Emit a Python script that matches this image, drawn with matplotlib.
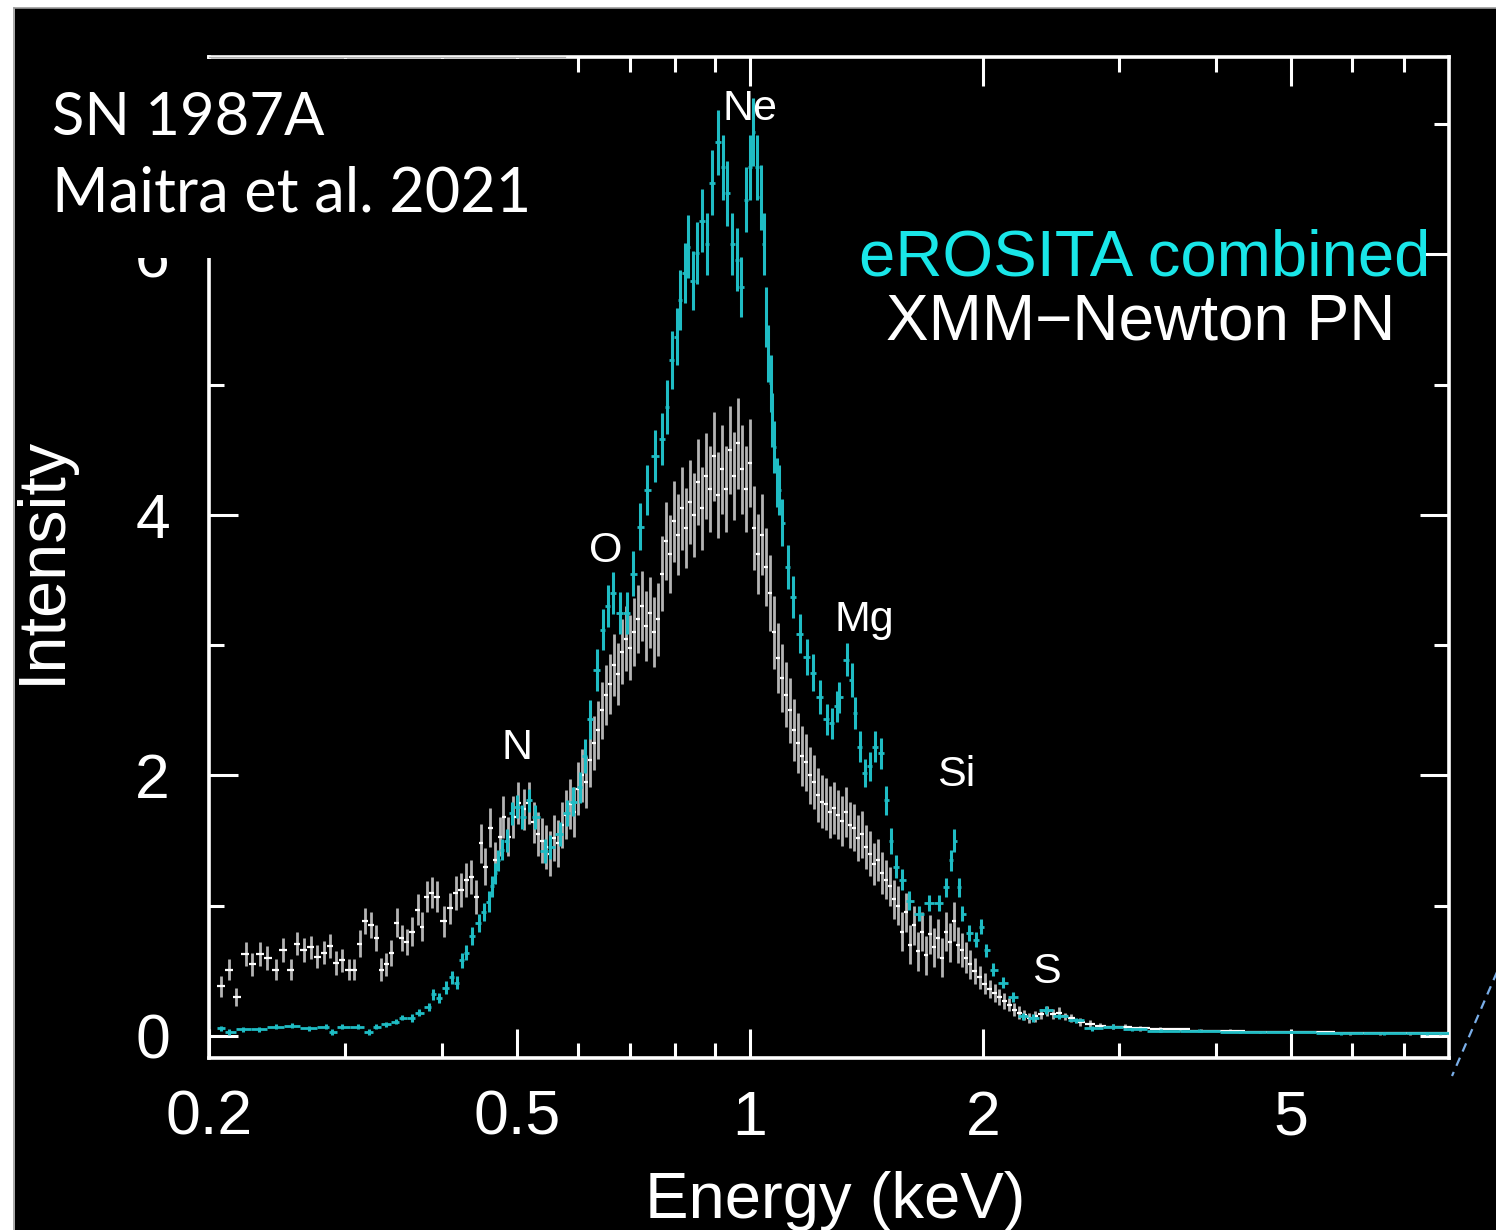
import matplotlib
matplotlib.use("Agg")
import numpy as np
import matplotlib.pyplot as plt
from matplotlib.patches import Rectangle
from matplotlib.lines import Line2D
from matplotlib.ticker import FixedLocator, FixedFormatter, NullFormatter

# ---------------- data ----------------
# XMM-Newton PN spectrum: bin centre energy (keV), intensity, 1-sigma error
xmm_energy = [
    0.207, 0.212, 0.217, 0.223, 0.227, 0.233, 0.238, 0.244, 0.249, 0.255,
    0.260, 0.265, 0.271, 0.276, 0.282, 0.287, 0.292, 0.297, 0.303, 0.308,
    0.313, 0.318, 0.324, 0.329, 0.334, 0.339, 0.344, 0.350, 0.355, 0.360,
    0.366, 0.372, 0.377, 0.382, 0.388, 0.394, 0.402, 0.410, 0.417, 0.423,
    0.430, 0.436, 0.443, 0.449, 0.455, 0.461, 0.469, 0.476, 0.480, 0.487,
    0.494, 0.502, 0.510, 0.518, 0.526,
    0.532, 0.539, 0.545, 0.552, 0.558, 0.565, 0.572, 0.579, 0.585, 0.592,
    0.600, 0.607, 0.614, 0.621, 0.629, 0.636, 0.644, 0.652, 0.659, 0.667,
    0.675, 0.683, 0.692, 0.700, 0.708, 0.717, 0.725, 0.734, 0.743, 0.752,
    0.761, 0.770, 0.779, 0.788, 0.798, 0.807, 0.817, 0.827, 0.837, 0.847,
    0.857, 0.867, 0.877, 0.888, 0.898, 0.909, 0.920, 0.931, 0.942, 0.953,
    0.965, 0.976, 0.988, 1.000, 1.012, 1.024, 1.036, 1.049, 1.061, 1.074,
    1.087, 1.100, 1.113, 1.126, 1.140, 1.153, 1.167, 1.181, 1.195, 1.209,
    1.224, 1.238, 1.253, 1.268, 1.283, 1.299, 1.314, 1.330, 1.346, 1.362,
    1.378, 1.395, 1.411, 1.428, 1.445, 1.463, 1.480, 1.498, 1.516, 1.534,
    1.552, 1.571, 1.590, 1.609, 1.628, 1.647, 1.667, 1.687, 1.707, 1.728,
    1.748, 1.769, 1.791, 1.812, 1.834, 1.856, 1.878, 1.900, 1.923, 1.952,
    1.981, 2.010, 2.040, 2.070, 2.100, 2.131, 2.163, 2.195, 2.227, 2.260,
    2.294, 2.335, 2.377, 2.419, 2.462, 2.506, 2.551, 2.597, 2.67, 2.75,
    2.83, 2.94, 3.05, 3.19, 3.39, 3.59, 3.82, 4.17, 4.56, 4.99,
    5.45, 5.96, 6.52, 7.12, 7.79,
]
xmm_intensity = [
    0.38, 0.51, 0.30, 0.63, 0.55, 0.63, 0.60, 0.51, 0.66, 0.51,
    0.71, 0.66, 0.68, 0.61, 0.64, 0.69, 0.56, 0.58, 0.51, 0.51,
    0.71, 0.88, 0.85, 0.75, 0.51, 0.55, 0.64, 0.87, 0.75, 0.72,
    0.80, 0.97, 0.84, 1.07, 1.10, 1.07, 0.88, 0.98, 1.10, 1.12,
    1.20, 1.22, 1.07, 1.48, 1.30, 1.60, 1.35, 1.53, 1.68, 1.53,
    1.68, 1.79, 1.74, 1.79, 1.64,
    1.55, 1.50, 1.45, 1.40, 1.52, 1.48, 1.62, 1.70, 1.78, 1.72,
    1.90, 2.00, 1.95, 2.12, 2.25, 2.35, 2.50, 2.62, 2.70, 2.85,
    2.78, 2.95, 3.05, 2.98, 3.10, 3.20, 3.30, 3.15, 3.25, 3.10,
    3.20, 3.55, 3.80, 3.70, 3.95, 3.85, 4.05, 3.90, 4.10, 4.00,
    4.25, 4.05, 4.30, 4.20, 4.45, 4.15, 4.35, 4.20, 4.50, 4.30,
    4.55, 4.35, 4.20, 4.40, 3.90, 3.70, 3.85, 3.60, 3.40, 3.10,
    2.90, 2.75, 2.62, 2.50, 2.35, 2.25, 2.15, 2.10, 2.00, 1.95,
    1.85, 1.80, 1.78, 1.72, 1.75, 1.70, 1.65, 1.72, 1.62, 1.60,
    1.52, 1.55, 1.45, 1.40, 1.32, 1.35, 1.25, 1.20, 1.15, 1.05,
    1.00, 0.80, 0.95, 0.70, 0.85, 0.65, 0.80, 0.62, 0.78, 0.68,
    0.75, 0.60, 0.80, 0.72, 0.88, 0.70, 0.66, 0.60, 0.55, 0.50,
    0.45, 0.40, 0.36, 0.33, 0.30, 0.27, 0.24, 0.20, 0.18, 0.16,
    0.14, 0.15, 0.17, 0.19, 0.17, 0.18, 0.15, 0.14, 0.11, 0.09,
    0.08, 0.07, 0.07, 0.06, 0.05, 0.05, 0.04, 0.04, 0.03, 0.03,
    0.03, 0.02, 0.02, 0.02, 0.02,
]
xmm_error = [
    0.08, 0.08, 0.07, 0.09, 0.09, 0.09, 0.09, 0.08, 0.09, 0.08,
    0.09, 0.09, 0.09, 0.09, 0.09, 0.09, 0.09, 0.09, 0.08, 0.08,
    0.10, 0.10, 0.10, 0.10, 0.09, 0.09, 0.10, 0.11, 0.10, 0.10,
    0.11, 0.12, 0.11, 0.12, 0.12, 0.12, 0.12, 0.12, 0.13, 0.13,
    0.13, 0.13, 0.13, 0.15, 0.14, 0.15, 0.14, 0.15, 0.16, 0.15,
    0.16, 0.16, 0.16, 0.16, 0.16,
    0.17, 0.17, 0.17, 0.17, 0.18, 0.18, 0.18, 0.19, 0.19, 0.19,
    0.20, 0.20, 0.20, 0.21, 0.21, 0.22, 0.22, 0.23, 0.23, 0.24,
    0.24, 0.25, 0.25, 0.25, 0.26, 0.26, 0.27, 0.27, 0.27, 0.27,
    0.28, 0.29, 0.30, 0.30, 0.31, 0.31, 0.32, 0.31, 0.32, 0.32,
    0.33, 0.32, 0.33, 0.33, 0.34, 0.33, 0.34, 0.33, 0.34, 0.34,
    0.35, 0.34, 0.33, 0.34, 0.32, 0.31, 0.31, 0.30, 0.29, 0.28,
    0.27, 0.26, 0.25, 0.25, 0.24, 0.23, 0.23, 0.22, 0.22, 0.21,
    0.21, 0.20, 0.20, 0.20, 0.20, 0.19, 0.19, 0.19, 0.18, 0.18,
    0.18, 0.18, 0.17, 0.17, 0.16, 0.16, 0.16, 0.15, 0.15, 0.15,
    0.15, 0.15, 0.15, 0.15, 0.15, 0.15, 0.15, 0.15, 0.15, 0.15,
    0.15, 0.15, 0.15, 0.15, 0.15, 0.14, 0.13, 0.12, 0.11, 0.10,
    0.09, 0.08, 0.07, 0.07, 0.06, 0.06, 0.05, 0.05, 0.05, 0.04,
    0.04, 0.04, 0.04, 0.04, 0.04, 0.04, 0.03, 0.03, 0.03, 0.03,
    0.02, 0.02, 0.02, 0.02, 0.02, 0.01, 0.01, 0.01, 0.01, 0.01,
    0.01, 0.01, 0.01, 0.01, 0.01,
]

# eROSITA combined spectrum: bin centre energy (keV), intensity, 1-sigma error
ero_energy = [
    0.207, 0.212, 0.221, 0.232, 0.244, 0.256, 0.269, 0.283, 0.288, 0.297,
    0.312, 0.322, 0.329, 0.339, 0.349, 0.355, 0.366, 0.373, 0.385, 0.389,
    0.396, 0.405, 0.412, 0.418, 0.424, 0.430, 0.437, 0.446, 0.453, 0.460,
    0.464, 0.469, 0.473, 0.478, 0.485, 0.492, 0.500, 0.508, 0.518, 0.528,
    0.543, 0.552, 0.568, 0.580, 0.591, 0.603, 0.612, 0.621, 0.634, 0.645,
    0.655, 0.665, 0.679, 0.693, 0.706, 0.721, 0.736, 0.754, 0.770, 0.781,
    0.793, 0.804, 0.811, 0.824, 0.831, 0.844, 0.853, 0.867, 0.880, 0.893,
    0.909, 0.923, 0.934, 0.948, 0.962, 0.975, 0.987, 1.000, 1.009, 1.021,
    1.033, 1.042, 1.048, 1.054, 1.063, 1.069, 1.075, 1.084, 1.090, 1.100,
    1.119, 1.136, 1.160, 1.184, 1.205, 1.230, 1.256, 1.275, 1.294, 1.305,
    1.333, 1.353, 1.365, 1.386, 1.406, 1.427, 1.449, 1.478, 1.499, 1.521,
    1.544, 1.574, 1.607, 1.655, 1.705, 1.757, 1.793, 1.820, 1.836, 1.863,
    1.880, 1.919, 1.959, 1.989, 2.018, 2.061, 2.124, 2.185, 2.250, 2.318,
    2.415, 2.510, 2.640, 2.767, 2.946, 3.12, 3.40, 3.80, 4.30, 5.00,
    5.80, 6.60, 7.50,
]
ero_intensity = [
    0.06, 0.03, 0.05, 0.05, 0.07, 0.08, 0.06, 0.07, 0.03, 0.07,
    0.07, 0.03, 0.07, 0.09, 0.11, 0.14, 0.14, 0.18, 0.22, 0.32,
    0.29, 0.37, 0.45, 0.41, 0.58, 0.64, 0.77, 0.87, 0.95, 1.03,
    1.15, 1.25, 1.35, 1.43, 1.50, 1.71, 1.76, 1.68, 1.81, 1.68,
    1.42, 1.45, 1.55, 1.71, 1.80, 1.91, 2.15, 2.43, 2.81, 3.12,
    3.30, 3.40, 3.25, 3.25, 3.55, 3.91, 4.19, 4.45, 4.58, 4.83,
    5.19, 5.37, 5.65, 5.86, 6.06, 5.80, 6.01, 6.26, 6.08, 6.55,
    6.86, 6.67, 6.47, 6.08, 5.96, 5.75, 6.42, 6.67, 6.94, 6.67,
    6.44, 6.08, 5.52, 5.24, 5.01, 4.73, 4.52, 4.25, 4.19, 3.94,
    3.60, 3.37, 3.09, 2.91, 2.79, 2.60, 2.43, 2.40, 2.53, 2.60,
    2.89, 2.73, 2.48, 2.22, 2.02, 2.07, 2.22, 2.17, 1.81, 1.50,
    1.30, 1.20, 1.04, 0.94, 1.02, 1.02, 1.14, 1.35, 1.50, 1.14,
    0.94, 0.79, 0.74, 0.84, 0.66, 0.51, 0.41, 0.30, 0.15, 0.14,
    0.20, 0.15, 0.12, 0.06, 0.07, 0.05, 0.04, 0.04, 0.03, 0.03,
    0.02, 0.02, 0.02,
]
ero_error = [
    0.02, 0.02, 0.02, 0.02, 0.02, 0.02, 0.02, 0.02, 0.02, 0.02,
    0.02, 0.02, 0.02, 0.02, 0.02, 0.02, 0.03, 0.03, 0.03, 0.04,
    0.04, 0.05, 0.05, 0.05, 0.06, 0.06, 0.07, 0.07, 0.07, 0.08,
    0.08, 0.08, 0.08, 0.08, 0.09, 0.09, 0.09, 0.09, 0.09, 0.09,
    0.09, 0.09, 0.09, 0.10, 0.11, 0.12, 0.13, 0.15, 0.16, 0.16,
    0.16, 0.16, 0.16, 0.16, 0.17, 0.18, 0.19, 0.20, 0.20, 0.21,
    0.22, 0.22, 0.23, 0.23, 0.24, 0.23, 0.24, 0.24, 0.24, 0.25,
    0.25, 0.25, 0.25, 0.24, 0.24, 0.23, 0.25, 0.25, 0.26, 0.25,
    0.25, 0.24, 0.23, 0.22, 0.22, 0.21, 0.20, 0.19, 0.19, 0.18,
    0.17, 0.16, 0.15, 0.14, 0.14, 0.13, 0.12, 0.12, 0.12, 0.12,
    0.13, 0.13, 0.12, 0.12, 0.11, 0.11, 0.12, 0.12, 0.11, 0.10,
    0.09, 0.08, 0.07, 0.06, 0.06, 0.06, 0.07, 0.08, 0.09, 0.07,
    0.06, 0.06, 0.06, 0.06, 0.05, 0.05, 0.04, 0.04, 0.03, 0.03,
    0.03, 0.02, 0.02, 0.02, 0.02, 0.01, 0.01, 0.01, 0.01, 0.01,
    0.01, 0.01, 0.01,
]

# emission line labels: name, energy (keV), intensity position
line_names = ["N", "O", "Ne", "Mg", "Si", "S"]
line_energy = [0.500, 0.650, 1.000, 1.404, 1.846, 2.416]
line_label_y = [2.21, 3.72, 7.12, 3.19, 2.00, 0.49]

x_major = [0.2, 0.5, 1, 2, 5]
x_major_labels = ["0.2", "0.5", "1", "2", "5"]
x_minor = [0.3, 0.4, 0.6, 0.7, 0.8, 0.9, 3, 4, 6, 7]
y_major = [0, 2, 4, 6]
y_major_labels = ["0", "2", "4", "6"]
y_minor = [1, 3, 5, 7]

# ---------------- styling ----------------
W, H = 1496, 1230
CYAN_DATA = "#1fbcc4"
CYAN_TEXT = "#19e6e8"
FONT = "Liberation Sans"


def fx(px):
    return px / W


def fy(py):
    return 1 - py / H


def bin_edges(centres):
    c = np.asarray(centres, dtype=float)
    mids = np.sqrt(c[:-1] * c[1:])
    lo = np.concatenate([[c[0] ** 2 / mids[0]], mids])
    hi = np.concatenate([mids, [c[-1] ** 2 / mids[-1]]])
    return lo, hi


fig = plt.figure(figsize=(W / 100, H / 100), dpi=100, facecolor="white")

# black slide background with thin grey edge
fig.add_artist(Rectangle((fx(15), 0), 1 - fx(15), fy(8), transform=fig.transFigure,
                         facecolor="black", edgecolor="none", zorder=-10))
fig.add_artist(Line2D([fx(14), fx(14)], [0, fy(8)], transform=fig.transFigure,
                      color="#9a9a9a", lw=1.2, zorder=-9))
fig.add_artist(Line2D([fx(14), 1], [fy(8), fy(8)], transform=fig.transFigure,
                      color="#9a9a9a", lw=1.2, zorder=-9))

ax = fig.add_axes([fx(209), fy(1058), fx(1449) - fx(209), fy(57) - fy(1058)])
ax.set_facecolor("black")
ax.set_xscale("log")
ax.set_xlim(0.2, 8.0)
ax.set_ylim(-0.169, 7.516)

# XMM-Newton PN: grey vertical error bars, white horizontal bin widths
xe = np.asarray(xmm_energy)
xi = np.asarray(xmm_intensity)
xr = np.asarray(xmm_error)
lo, hi = bin_edges(xe)
ax.vlines(xe, xi - xr, xi + xr, color="#b4b4b4", lw=2.0, zorder=2)
ax.hlines(xi, lo, hi, color="white", lw=1.6, zorder=2.5)

# eROSITA combined
ee = np.asarray(ero_energy)
ei = np.asarray(ero_intensity)
er = np.asarray(ero_error)
lo, hi = bin_edges(ee)
ax.vlines(ee, ei - er, ei + er, color=CYAN_DATA, lw=2.2, zorder=3)
ax.hlines(ei, lo, hi, color=CYAN_DATA, lw=2.0, zorder=3)

for name, e, y in zip(line_names, line_energy, line_label_y):
    ax.text(e, y, name, color="white", fontsize=31, family=FONT,
            ha="center", va="center", zorder=4)

# axes frame and ticks
for sp in ax.spines.values():
    sp.set_color("white")
    sp.set_linewidth(2.6)
ax.xaxis.set_major_locator(FixedLocator(x_major))
ax.xaxis.set_major_formatter(FixedFormatter(x_major_labels))
ax.xaxis.set_minor_locator(FixedLocator(x_minor))
ax.xaxis.set_minor_formatter(NullFormatter())
ax.yaxis.set_major_locator(FixedLocator(y_major))
ax.yaxis.set_major_formatter(FixedFormatter(y_major_labels))
ax.yaxis.set_minor_locator(FixedLocator(y_minor))
ax.yaxis.set_minor_formatter(NullFormatter())
ax.tick_params(which="both", direction="in", colors="white", top=True, right=True,
               width=2.2)
ax.tick_params(which="major", length=21)
ax.tick_params(which="minor", length=11)
ax.tick_params(axis="x", which="major", pad=22)
ax.tick_params(axis="y", which="major", pad=28)
for lab in ax.get_xticklabels() + ax.get_yticklabels():
    lab.set_fontsize(45)
    lab.set_family(FONT)
    lab.set_color("white")

# axis titles
fig.text(fx(835), fy(1218), "Energy (keV)", color="white", fontsize=47, family=FONT,
         ha="center", va="baseline")
fig.text(fx(43), fy(560), "Intensity", color="white", fontsize=48, family=FONT,
         ha="center", va="center", rotation=90)

# legend-style labels
fig.text(fx(1430), fy(275), "eROSITA combined", color=CYAN_TEXT, fontsize=47,
         family=FONT, ha="right", va="baseline", zorder=5)
fig.text(fx(1395), fy(340), "XMM\u2212Newton PN", color="white", fontsize=46,
         family=FONT, ha="right", va="baseline", zorder=5)

# title panel in the upper left corner
fig.add_artist(Rectangle((fx(15), fy(258)), fx(565) - fx(15), fy(58.5) - fy(258),
                         transform=fig.transFigure, facecolor="black",
                         edgecolor="none", zorder=5))
fig.add_artist(Line2D([fx(209), fx(565)], [fy(57), fy(57)], transform=fig.transFigure,
                      color="#b0b0b0", lw=0.9, zorder=6))
fig.text(fx(52), fy(135), "SN 1987A", color="white", fontsize=43, family="Lato",
         ha="left", va="baseline", zorder=6)
fig.text(fx(52), fy(212), "Maitra et al. 2021", color="white", fontsize=44,
         family="Lato", ha="left", va="baseline", zorder=6)

# dashed connector at the lower right edge
fig.add_artist(Line2D([fx(1497), fx(1452)], [fy(972), fy(1076)], transform=fig.transFigure,
                      color="#7aaee8", lw=1.6, ls=(0, (4, 3)), zorder=6))

fig.savefig("out.png", dpi=100, facecolor="white")
